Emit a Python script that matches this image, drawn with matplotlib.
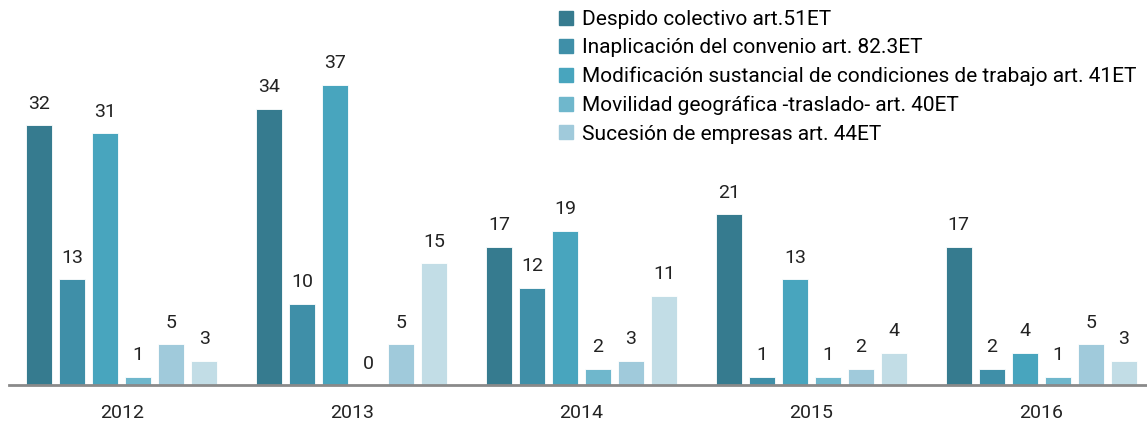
import numpy as np
import matplotlib
matplotlib.use("Agg")
import matplotlib.pyplot as plt
from matplotlib.patches import Patch

plt.rcParams['font.family'] = ['Roboto', 'DejaVu Sans']

years = ['2012', '2013', '2014', '2015', '2016']
series_names = ['Despido colectivo art.51ET',
                'Inaplicación del convenio art. 82.3ET',
                'Modificación sustancial de condiciones de trabajo art. 41ET',
                'Movilidad geográfica -traslado- art. 40ET',
                'Sucesión de empresas art. 44ET',
                None]
despido = [32, 34, 17, 21, 17]
inaplicacion = [13, 10, 12, 1, 2]
modificacion = [31, 37, 19, 13, 4]
movilidad = [1, 0, 2, 1, 1]
sucesion = [5, 5, 3, 2, 5]
otros = [3, 15, 11, 4, 3]
values = [despido, inaplicacion, modificacion, movilidad, sucesion, otros]
colors = ['#367b8f', '#3f8fa8', '#48a5be', '#6fb7cc', '#a0cadb', '#c2dde6']

fig = plt.figure(figsize=(11.47, 4.25), dpi=100)
ax = fig.add_axes([0.008, 0.094, 0.992, 0.860])

x = np.arange(len(years))
pitch = 0.1435
width = 0.113
for i, vals in enumerate(values):
    pos = x + (i - 2.5) * pitch
    bars = ax.bar(pos, vals, width, color=colors[i], edgecolor='white', linewidth=0.6)
    for b, v in zip(bars, vals):
        ax.annotate(str(v), (b.get_x() + b.get_width() / 2, v),
                    xytext=(0, 9), textcoords='offset points',
                    ha='center', va='bottom', fontsize=14, color='#222222')

ax.set_xlim(-0.49, 4.46)
ax.set_ylim(0, 45)
ax.set_xticks(x)
ax.set_xticklabels(years, fontsize=14, color='#222222')
ax.tick_params(axis='x', length=0, pad=14)
ax.set_yticks([])
for s in ['top', 'right', 'left']:
    ax.spines[s].set_visible(False)
ax.spines['bottom'].set_color('#8a8a8a')
ax.spines['bottom'].set_linewidth(2)

handles = [Patch(color=colors[i], label=series_names[i]) for i in range(5)]
fig.legend(handles=handles, loc='upper left', bbox_to_anchor=(559 / 1147, 1 - 10 / 425),
           frameon=False, fontsize=15, handlelength=0.65, handleheight=0.65,
           handletextpad=0.45, labelspacing=0.45, borderaxespad=0, borderpad=0)

fig.savefig('out.png', dpi=100)
